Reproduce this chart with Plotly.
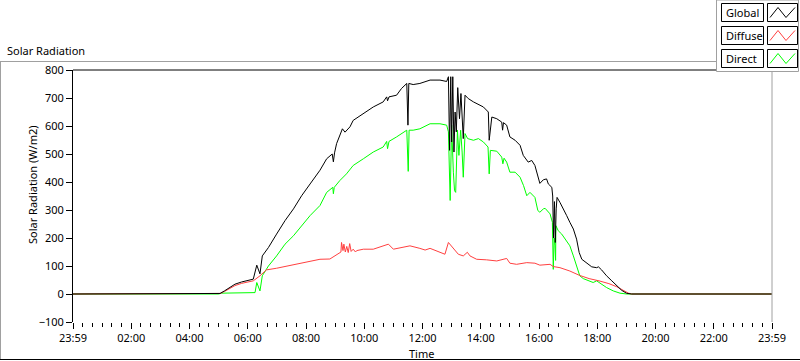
import plotly.graph_objects as go

# ---------------- data (hours since 23:59 of previous day, W/m2) ----------------
global_t = [0, 5.0, 5.05, 5.2, 5.39, 5.56, 5.79, 5.95, 6.19, 6.31, 6.42, 6.5, 6.71, 6.99,
            7.28, 7.57, 7.85, 8.14, 8.48, 8.71, 8.9, 8.94, 8.98, 9.05, 9.25, 9.34, 9.51,
            9.62, 9.97, 10.31, 10.65, 10.77, 10.8, 10.85, 11.11, 11.28, 11.46, 11.5, 11.53,
            11.68, 11.91, 12.26, 12.6, 12.83, 12.89, 12.93, 12.97, 13.0, 13.04, 13.08,
            13.12, 13.16, 13.21, 13.27, 13.32, 13.36, 13.4, 13.46, 13.57, 13.75, 13.92,
            14.09, 14.26, 14.29, 14.38, 14.55, 14.72, 14.75, 14.78, 14.89, 15.0, 15.18,
            15.35, 15.46, 15.63, 15.75, 15.86, 15.98, 16.03, 16.15, 16.26, 16.32, 16.44,
            16.47, 16.5, 16.53, 16.56, 16.59, 16.62, 16.72, 16.84, 16.95, 17.06, 17.18,
            17.29, 17.38, 17.47, 17.64, 17.81, 17.98, 18.04, 18.15, 18.32, 18.5, 18.67,
            18.84, 19.01, 19.18, 24]
global_v = [0, 0, 2, 11, 23, 35, 43, 47, 53, 103, 72, 136, 166, 214,
            262, 304, 351, 393, 442, 483, 500, 472, 504, 537, 590, 578, 597,
            620, 644, 668, 686, 704, 690, 704, 710, 734, 752, 603, 752,
            748, 752, 764, 764, 759, 776, 513, 776, 543, 776, 507,
            650, 579, 737, 626, 716, 650, 555, 710, 698, 686, 677,
            668, 650, 549, 632, 626, 614, 585, 612, 603, 561, 549,
            531, 495, 471, 477, 459, 411, 395, 408, 411, 393, 381,
            350, 200, 330, 184, 304, 345, 327, 304, 280, 256, 232,
            196, 148, 124, 112, 97, 94, 97, 86, 65, 47, 29,
            13, 2.5, 0, 0]

diffuse_t = [0, 5.0, 5.05, 5.2, 5.39, 5.56, 5.79, 6.0, 6.19, 6.42, 6.64, 6.99, 7.57, 8.14,
             8.48, 8.82, 9.05, 9.2, 9.22, 9.27, 9.3, 9.35, 9.4, 9.45, 9.5, 9.55, 9.62,
             9.7, 9.74, 9.97, 10.31, 10.54, 10.83, 11.0, 11.34, 11.57, 11.91, 12.09,
             12.26, 12.49, 12.77, 12.89, 13.06, 13.23, 13.4, 13.54, 13.63, 13.86, 14.2,
             14.55, 14.89, 15.0, 15.23, 15.58, 15.86, 16.03, 16.38, 16.49, 16.72, 17.06,
             17.38, 17.72, 18.06, 18.4, 18.67, 18.9, 19.07, 19.18, 24]
diffuse_v = [0, 0, 2, 9, 20, 30, 38, 43, 47, 65, 86, 92, 104, 118,
             124, 125, 142, 150, 184, 155, 178, 150, 170, 148, 180, 152, 160,
             150, 155, 160, 160, 169, 178, 160, 166, 172, 163, 157,
             163, 154, 142, 184, 163, 142, 136, 149, 136, 124, 122,
             118, 127, 110, 106, 112, 110, 103, 106, 98, 94, 82,
             67, 55, 47, 37, 26, 11, 3, 0, 0]

direct_t = [0, 5.0, 5.1, 5.5, 6.0, 6.25, 6.31, 6.42, 6.5, 6.71, 6.99, 7.28, 7.57, 7.85,
            8.14, 8.48, 8.71, 8.92, 8.94, 8.97, 9.16, 9.39, 9.62, 9.97, 10.31, 10.65,
            10.77, 10.8, 10.85, 11.11, 11.28, 11.46, 11.51, 11.54, 11.68, 11.91, 12.26,
            12.6, 12.83, 12.89, 12.95, 13.0, 13.06, 13.1, 13.14, 13.2, 13.25, 13.31,
            13.36, 13.4, 13.46, 13.55, 13.75, 13.92, 14.09, 14.25, 14.29, 14.33, 14.55,
            14.72, 14.76, 14.8, 14.89, 15.0, 15.18, 15.35, 15.47, 15.58, 15.69, 15.86,
            15.96, 16.03, 16.15, 16.21, 16.38, 16.46, 16.49, 16.52, 16.55, 16.57, 16.58,
            16.66, 16.78, 16.89, 17.06, 17.18, 17.29, 17.4, 17.52, 17.69, 17.86, 17.98,
            18.06, 18.32, 18.55, 18.78, 19.01, 24]
direct_v = [0, 0, 3, 4, 5, 5, 41, 11, 65, 100, 136, 178, 208, 244,
            280, 316, 363, 381, 358, 381, 405, 429, 459, 483, 507, 525,
            545, 519, 545, 561, 573, 585, 438, 585, 585, 590, 608,
            608, 603, 579, 334, 603, 435, 369, 363, 585, 495, 585,
            507, 417, 573, 555, 549, 555, 543, 525, 429, 513, 510,
            489, 465, 485, 471, 435, 435, 417, 387, 351, 363, 345,
            298, 292, 304, 306, 286, 256, 88, 200, 172, 120, 244,
            226, 214, 196, 172, 136, 100, 65, 55, 47, 41, 47,
            41, 23, 11, 3, 0, 0]

x_tickvals = [0, 2, 4, 6, 8, 10, 12, 14, 16, 18, 20, 22, 24]
x_ticktext = ["23:59", "02:00", "04:00", "06:00", "08:00", "10:00", "12:00",
              "14:00", "16:00", "18:00", "20:00", "22:00", "23:59"]
y_tickvals = [-100, 0, 100, 200, 300, 400, 500, 600, 700, 800]

series_names = ["Global", "Diffuse", "Direct"]
series_colors = ["#000000", "#ff4040", "#00ff00"]

# ---------------- layout geometry (pixels) ----------------
W, H = 800, 361
L, R, T, B = 73, 772, 70, 322
FONT = "Noto Sans"


def px(x):
    return (x - L) / (R - L)


def py(y):
    return (B - y) / (B - T)


fig = go.Figure()
fig.add_trace(go.Scatter(x=direct_t, y=direct_v, mode="lines", name="Direct",
                         line=dict(color=series_colors[2], width=1)))
fig.add_trace(go.Scatter(x=diffuse_t, y=diffuse_v, mode="lines", name="Diffuse",
                         line=dict(color=series_colors[1], width=1)))
fig.add_trace(go.Scatter(x=global_t, y=global_v, mode="lines", name="Global",
                         line=dict(color=series_colors[0], width=1)))

shapes = []
annotations = []

# outer panel
shapes.append(dict(type="line", xref="paper", yref="paper", x0=px(0), x1=px(717),
                   y0=py(61.5), y1=py(61.5), line=dict(color="#a0a0a0", width=1)))
shapes.append(dict(type="line", xref="paper", yref="paper", x0=px(0.5), x1=px(0.5),
                   y0=py(61.5), y1=py(359.5), line=dict(color="#a0a0a0", width=1)))
shapes.append(dict(type="line", xref="paper", yref="paper", x0=px(0), x1=px(800),
                   y0=py(359.5), y1=py(359.5), line=dict(color="#000000", width=1)))
# plot frame top / right
shapes.append(dict(type="line", xref="paper", yref="paper", x0=0, x1=1, y0=1, y1=1,
                   line=dict(color="#000000", width=1)))
shapes.append(dict(type="line", xref="paper", yref="paper", x0=1, x1=1, y0=0, y1=1,
                   line=dict(color="#a0a0a0", width=1)))

# legend panel
shapes.append(dict(type="rect", xref="paper", yref="paper", x0=px(716.5), x1=px(798.5),
                   y0=py(0), y1=py(71.5), fillcolor="white",
                   line=dict(color="#a0a0a0", width=1), layer="above"))
rows = [(3.5, 21.5), (26.5, 44.5), (49.5, 67.5)]
for (y0, y1), name, col in zip(rows, series_names, series_colors):
    shapes.append(dict(type="rect", xref="paper", yref="paper", x0=px(721.5), x1=px(763.5),
                       y0=py(y0), y1=py(y1), fillcolor="white",
                       line=dict(color="#000000", width=1), layer="above"))
    shapes.append(dict(type="rect", xref="paper", yref="paper", x0=px(767.5), x1=px(797.5),
                       y0=py(y0), y1=py(y1), fillcolor="white",
                       line=dict(color="#000000", width=1), layer="above"))
    ym = (y0 + y1) / 2
    path = "M {} {} L {} {} L {} {} L {} {}".format(
        px(770), py(ym + 5), px(778), py(ym - 5), px(786), py(ym + 5), px(795), py(ym - 5))
    shapes.append(dict(type="path", xref="paper", yref="paper", path=path,
                       line=dict(color=col, width=1), layer="above"))
    annotations.append(dict(xref="paper", yref="paper", x=px(723.5), y=py(ym), text=name,
                            showarrow=False, xanchor="left", yanchor="middle",
                            font=dict(family=FONT, size=11, color="black")))

# titles
annotations.append(dict(xref="paper", yref="paper", x=px(5), y=py(50), text="Solar Radiation",
                        showarrow=False, xanchor="left", yanchor="middle",
                        font=dict(family=FONT, size=11, color="black")))
annotations.append(dict(xref="paper", yref="paper", x=px(32), y=py(185),
                        text="Solar Radiation (W/m2)", textangle=-90, showarrow=False,
                        xanchor="center", yanchor="middle",
                        font=dict(family=FONT, size=11, color="black")))
annotations.append(dict(xref="paper", yref="paper", x=px(421), y=py(353), text="Time",
                        showarrow=False, xanchor="center", yanchor="middle",
                        font=dict(family=FONT, size=11, color="black")))

fig.update_layout(
    width=W, height=H,
    margin=dict(l=L, r=W - R, t=T, b=H - B, pad=0),
    paper_bgcolor="white", plot_bgcolor="white",
    showlegend=False,
    shapes=shapes, annotations=annotations,
    font=dict(family=FONT, size=11, color="black"),
    xaxis=dict(range=[0, 24], tickmode="array", tickvals=x_tickvals, ticktext=x_ticktext,
               showgrid=False, zeroline=False, showline=False,
               ticks="outside", ticklen=6, tickcolor="black", tickwidth=1,
               tickfont=dict(family=FONT, size=11, color="black"),
               minor=dict(tickmode="linear", tick0=0, dtick=1 / 3, ticks="outside",
                          ticklen=4, tickcolor="black", showgrid=False)),
    yaxis=dict(range=[-100, 800], tickmode="array", tickvals=y_tickvals,
               showgrid=False, zeroline=False, showline=True, linecolor="black", linewidth=1,
               ticks="outside", ticklen=6, tickcolor="black", tickwidth=1,
               tickfont=dict(family=FONT, size=11, color="black")),
)

fig.write_html("out.html", config={"displayModeBar": False},
               post_script="document.body.style.margin='0';document.body.style.overflow='hidden';")
